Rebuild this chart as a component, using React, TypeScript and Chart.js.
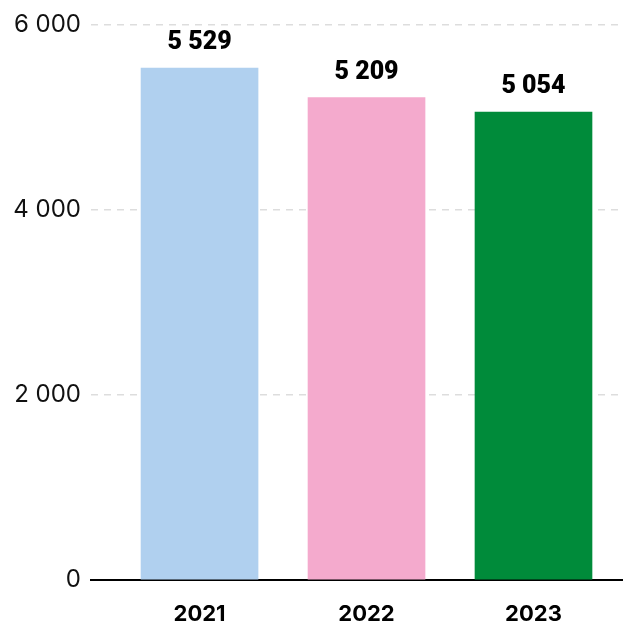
import React, { useEffect, useRef } from "react";
import { Chart, registerables } from "chart.js";

Chart.register(...registerables);

const categories = ["2021", "2022", "2023"];
const values = [5529, 5209, 5054];
const barColors = ["#b0d0ef", "#f4aacd", "#008b3a"];
const yTicks = [0, 2000, 4000, 6000];

const fmt = (v: number) => String(v).replace(/\B(?=(\d{3})+(?!\d))/g, " ");

const valueLabels = {
  id: "valueLabels",
  afterDatasetsDraw(chart: any) {
    const ctx = chart.ctx;
    const meta = chart.getDatasetMeta(0);
    ctx.save();
    ctx.font = "900 25px Roboto";
    ctx.fillStyle = "#000";
    ctx.textAlign = "center";
    ctx.textBaseline = "middle";
    meta.data.forEach((el: any, i: number) => {
      ctx.fillText(fmt(values[i]), el.x, el.y - 25);
    });
    ctx.restore();
  },
};

export default function App() {
  const ref = useRef<HTMLCanvasElement>(null);
  useEffect(() => {
    document.body.style.margin = "0";
    const chart = new Chart(ref.current!, {
      type: "bar",
      data: {
        datasets: [
          {
            data: values.map((v, i) => ({ x: i, y: v })),
            backgroundColor: barColors,
            barThickness: 117,
            borderWidth: 0,
          },
        ],
      },
      options: {
        animation: false,
        responsive: false,
        devicePixelRatio: 1,
        layout: { padding: { top: 23, right: 0, bottom: 0, left: 0 } },
        plugins: { legend: { display: false }, tooltip: { enabled: false } },
        scales: {
          x: {
            type: "linear",
            offset: false,
            min: -0.65,
            max: 2.536,
            afterBuildTicks: (scale: any) => {
              scale.ticks = categories.map((_, i) => ({ value: i }));
            },
            afterFit: (scale: any) => {
              scale.height = 45;
            },
            grid: { display: false, drawTicks: false, offset: false },
            border: { display: true, color: "#000", width: 2 },
            ticks: {
              padding: 21,
              color: "#000",
              maxRotation: 0,
              font: { family: "Inter", weight: "bold", size: 22 },
              callback: (v: any) => categories[v] ?? "",
            },
          },
          y: {
            min: 0,
            max: 6000,
            afterBuildTicks: (scale: any) => {
              scale.ticks = yTicks.map((v) => ({ value: v }));
            },
            afterFit: (scale: any) => {
              scale.width = 91;
            },
            grid: { color: "#dddddd", lineWidth: 1.5, drawTicks: false },
            border: { display: false, dash: [7, 6] },
            ticks: {
              padding: 10,
              color: "#111",
              font: { family: "Inter", size: 24 },
              callback: (v: any) => fmt(Number(v)),
            },
          },
        },
      },
      plugins: [valueLabels],
    });
    return () => chart.destroy();
  }, []);
  return (
    <div style={{ width: 623, height: 625 }}>
      <canvas ref={ref} width={623} height={625} />
    </div>
  );
}
